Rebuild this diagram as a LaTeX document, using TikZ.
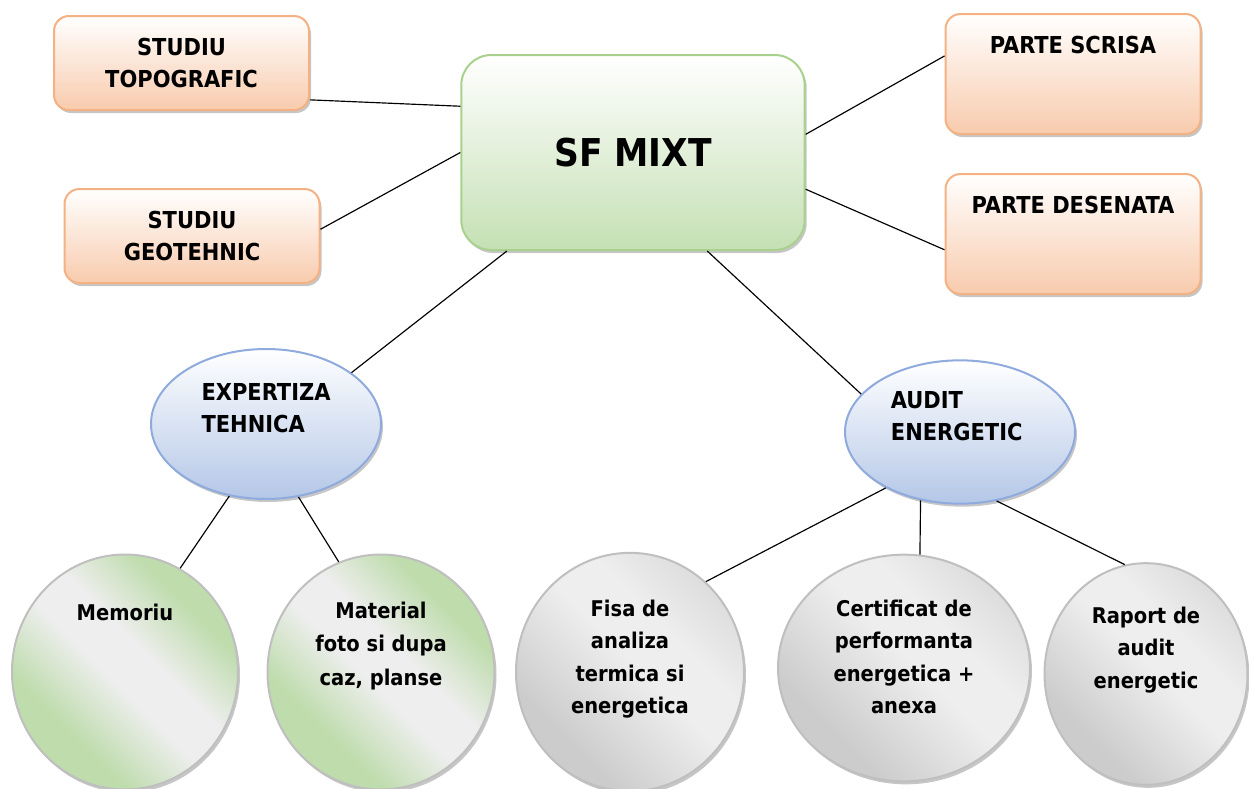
\documentclass[tikz,border=0pt]{standalone}
\usepackage{fontspec}
\setmainfont{DejaVu Sans Condensed}
\definecolor{peachfill}{RGB}{248,203,173}
\definecolor{peachline}{RGB}{244,177,131}
\definecolor{mintfill}{RGB}{197,224,180}
\definecolor{mintline}{RGB}{169,209,142}
\definecolor{skyfill}{RGB}{180,199,231}
\definecolor{skyline}{RGB}{143,170,220}
\definecolor{leafgreen}{RGB}{190,220,172}
\definecolor{ashlight}{RGB}{238,238,238}
\definecolor{ashmid}{RGB}{220,220,220}
\definecolor{ashdark}{RGB}{204,204,204}
\definecolor{ashline}{RGB}{191,191,191}
\usetikzlibrary{shapes.geometric,shadows}
\pgfdeclarehorizontalshading{greenband}{100bp}{color(0bp)=(leafgreen); color(32bp)=(leafgreen); color(47bp)=(ashlight); color(56bp)=(ashlight); color(70bp)=(leafgreen); color(100bp)=(leafgreen)}
\pgfdeclarehorizontalshading{greyband}{100bp}{color(0bp)=(ashdark); color(30bp)=(ashdark); color(52bp)=(ashlight); color(62bp)=(ashlight); color(76bp)=(ashmid); color(100bp)=(ashmid)}

\begin{document}
\begin{tikzpicture}[x=0.6pt,y=-0.6pt]
	 \useasboundingbox (0,0) rectangle (1249,788);
	 \tikzstyle{shadowed}=[drop shadow={shadow xshift=1.2pt,shadow yshift=-1.8pt,fill=black!50,opacity=0.45}]
	 \tikzstyle{studybox}=[rectangle,rounded corners=9pt,draw=peachline,line width=1.2pt,top color=white,bottom color=peachfill,shadowed,minimum width=153pt,minimum height=56.4pt,align=center,font=\bfseries\fontsize{14}{19.2}\selectfont]
	 \tikzstyle{partbox}=[studybox,minimum height=72pt]
	 \tikzstyle{rootbox}=[rectangle,rounded corners=18pt,draw=mintline,line width=1.2pt,top color=white,bottom color=mintfill,shadowed,minimum width=206pt,minimum height=117pt,font=\bfseries\fontsize{23}{28}\selectfont]
	 \tikzstyle{bubble}=[ellipse,draw=skyline,line width=1.2pt,top color=white,bottom color=skyfill,shadowed,minimum width=138pt,minimum height=90pt]
	 \tikzstyle{greendisc}=[ellipse,draw=ashline,line width=1.2pt,shading=greenband,shading angle=45,shadowed]
	 \tikzstyle{greydisc}=[ellipse,draw=ashline,line width=1.2pt,shading=greyband,shading angle=45,shadowed]
	 \tikzstyle{txt}=[align=left,font=\bfseries\fontsize{14}{19.2}\selectfont]
	 \tikzstyle{smalltxt}=[align=center,font=\bfseries\fontsize{13}{20}\selectfont]
	 \tikzstyle{edge}=[draw,line width=0.7pt,-,black]
	 % upper row
	 \node[studybox] (topo) at (181.5,63) {STUDIU\\TOPOGRAFIC};
	 \node[studybox] (geo) at (192,236) {STUDIU\\GEOTEHNIC};
	 \node[rootbox] (sf) at (633,152.5) {SF MIXT};
	 \node[partbox,label={[txt,yshift=17.4pt]center:PARTE SCRISA}] (scrisa) at (1073,74) {};
	 \node[partbox,label={[txt,yshift=17.4pt]center:PARTE DESENATA}] (desen) at (1073,234) {};
	 % middle row
	 \node[bubble,label={[txt,yshift=9.6pt]center:EXPERTIZA\\TEHNICA}] (expert) at (266,424) {};
	 \node[bubble,minimum height=86pt,label={[txt,yshift=9.6pt,xshift=-2pt]center:AUDIT\\ENERGETIC}] (audit) at (960,432) {};
	 % lower row
	 \node[greendisc,minimum width=135.6pt,minimum height=141pt,label={[smalltxt,yshift=36pt]center:Memoriu}] (memo) at (125,672) {};
	 \node[greendisc,minimum width=136.2pt,minimum height=141pt,label={[smalltxt,yshift=15.6pt]center:Material\\foto si dupa\\caz, planse}] (foto) at (381,672) {};
	 \node[greydisc,minimum width=136.8pt,minimum height=143pt,label={[smalltxt,yshift=7.8pt,font=\bfseries\fontsize{13}{19.5}\selectfont]center:Fisa de\\analiza\\termica si\\energetica}] (fisa) at (630,672) {};
	 \node[greydisc,minimum width=151.2pt,minimum height=136pt,label={[smalltxt,yshift=6.6pt,font=\bfseries\fontsize{13}{19.5}\selectfont]center:Certificat de\\performanta\\energetica +\\anexa}] (cert) at (904,668) {};
	 \node[greydisc,minimum width=121.8pt,minimum height=133pt,label={[smalltxt,yshift=14.4pt,font=\bfseries\fontsize{13}{19.5}\selectfont]center:Raport de\\audit\\energetic}] (raport) at (1146,674) {};
	 % connectors
	 \draw[edge] (topo.-16) -- (sf.165);
	 \draw[edge] (geo.3) -- (sf.180);
	 \draw[edge] (sf.6) -- (scrisa.172);
	 \draw[edge] (sf.-12) -- (desen.187);
	 \draw[edge] (sf.218) -- (expert.31);
	 \draw[edge] (sf.-53) -- (audit.159);
	 \draw[edge] (expert.243) -- (memo.62);
	 \draw[edge] (expert.294) -- (foto.111);
	 \draw[edge] (audit.217) -- (fisa.50);
	 \draw[edge] (audit.240) -- (cert.82);
	 \draw[edge] (audit.298) -- (raport.101);
\end{tikzpicture}
\end{document}
